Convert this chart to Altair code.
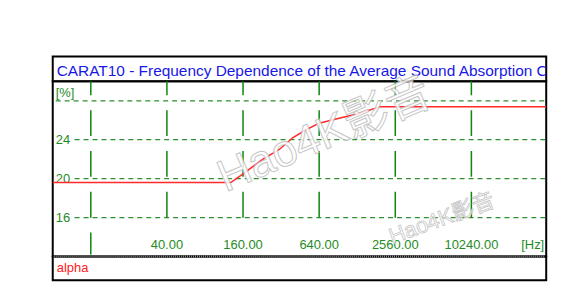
import altair as alt
import pandas as pd

# ---- data ----
title_text = "CARAT10 - Frequency Dependence of the Average Sound Absorption Coefficient"
freq_hz = [5, 128, 160, 230, 310, 395, 500, 640, 920, 1320, 1950, 40000]
alpha_pct = [19.6, 19.6, 20.5, 22.0, 23.0, 24.2, 25.0, 25.7, 26.2, 26.7, 27.4, 27.4]
grid_freqs = [10, 40, 160, 640, 2560, 10240]
grid_labels = ["", "40.00", "160.00", "640.00", "2560.00", "10240.00"]
y_ticks = [16, 20, 24, 28]
y_labels = ["16", "20", "24", "[%]"]
legend_text = ["alpha"]
watermark = "Hao4K影音"

W = 496
FONT = "Liberation Sans"
GREEN_TXT = "#1f8c1f"
GREEN_V = "#0b870b"
GREEN_H = "#2f8f2f"

xs = alt.Scale(type="log", domain=[5, 40000])
ys = alt.Scale(domain=[12, 30])

curve = pd.DataFrame({"f": freq_hz, "a": alpha_pct})
vgrid = pd.DataFrame({"f": grid_freqs, "lab": grid_labels})
hgrid = pd.DataFrame({"v": y_ticks, "lab": y_labels})

# ---- title band ----
title_band = alt.Chart(pd.DataFrame({"t": [title_text]})).mark_text(
    align="left", baseline="alphabetic", font=FONT, fontSize=15.5,
    color="#1717e6", clip=True
).encode(text="t:N", x=alt.value(4), y=alt.value(19.5)).properties(width=W, height=25)

# ---- main plot ----
base_v = alt.Chart(vgrid)
vlines_lab = base_v.transform_filter("datum.lab != ''").mark_rule(
    color=GREEN_V, strokeWidth=1.5, strokeDash=[26, 15], strokeDashOffset=12
).encode(x=alt.X("f:Q", scale=xs, axis=None), y=alt.value(0), y2=alt.value(147))
vlines_unlab = base_v.transform_filter("datum.lab == ''").mark_rule(
    color=GREEN_V, strokeWidth=1.5, strokeDash=[26, 15], strokeDashOffset=12
).encode(x=alt.X("f:Q", scale=xs, axis=None), y=alt.value(0), y2=alt.value(174))
xlabels = base_v.mark_text(
    font=FONT, fontSize=13, color=GREEN_TXT, baseline="middle", align="center"
).encode(x=alt.X("f:Q", scale=xs, axis=None), y=alt.value(165), text="lab:N")
hz_label = alt.Chart(pd.DataFrame({"t": ["[Hz]"]})).mark_text(
    font=FONT, fontSize=13, color=GREEN_TXT, baseline="middle", align="right"
).encode(x=alt.value(494), y=alt.value(165), text="t:N")

base_h = alt.Chart(hgrid)
hlines = base_h.transform_filter("datum.v < 28").mark_rule(
    color=GREEN_H, strokeWidth=1.2, strokeDash=[5, 4]
).encode(y=alt.Y("v:Q", scale=ys, axis=None), x=alt.value(22), x2=alt.value(W))
hline_top = base_h.transform_filter("datum.v == 28").mark_rule(
    color=GREEN_H, strokeWidth=1.2, strokeDash=[5, 4]
).encode(y=alt.Y("v:Q", scale=ys, axis=None), x=alt.value(3), x2=alt.value(W))
ylabels = base_h.transform_filter("datum.v < 28").mark_text(
    font=FONT, fontSize=13, color=GREEN_TXT, baseline="middle", align="left"
).encode(y=alt.Y("v:Q", scale=ys, axis=None), x=alt.value(3), text="lab:N")
ylabel_top = base_h.transform_filter("datum.v == 28").mark_text(
    font=FONT, fontSize=13, color=GREEN_TXT, baseline="bottom", align="left", dy=-1
).encode(y=alt.Y("v:Q", scale=ys, axis=None), x=alt.value(3), text="lab:N")

line = alt.Chart(curve).mark_line(color="#ff2a2a", strokeWidth=1.5, clip=True).encode(
    x=alt.X("f:Q", scale=xs, axis=None), y=alt.Y("a:Q", scale=ys, axis=None)
)

wm_df = pd.DataFrame({"t": [watermark]})
wm_big = alt.Chart(wm_df).mark_text(
    font=f"{FONT}, Noto Sans CJK SC", fontSize=45, angle=337, align="center",
    baseline="middle", fill="#ffffff", stroke="#bdbdbd", strokeWidth=1, opacity=0.85
).encode(x=alt.value(273), y=alt.value(54), text="t:N")
wm_small = alt.Chart(wm_df).mark_text(
    font=f"{FONT}, Noto Sans CJK SC", fontSize=22, angle=340, align="center",
    baseline="middle", fill="#ffffff", stroke="#bdbdbd", strokeWidth=0.8, opacity=0.85
).encode(x=alt.value(391), y=alt.value(138), text="t:N")

main = alt.layer(
    hlines, hline_top, vlines_lab, vlines_unlab, xlabels, hz_label, ylabels, ylabel_top,
    line, wm_big, wm_small
).properties(width=W, height=176)

# ---- legend band ----
legend_band = alt.Chart(pd.DataFrame({"t": legend_text})).mark_text(
    font=FONT, fontSize=13, color="#ff2020", align="left", baseline="middle"
).encode(text="t:N", x=alt.value(4), y=alt.value(12)).properties(width=W, height=24)

# separators (gray) drawn over the black view borders
sep_df = pd.DataFrame({"k": [0]})
sep_title = alt.Chart(sep_df).mark_rule(color="#8a8a8a", strokeWidth=2).encode(
    x=alt.value(1), x2=alt.value(W - 1), y=alt.value(25))
sep_legend = alt.Chart(sep_df).mark_rule(color="#8a8a8a", strokeWidth=2, strokeDash=[1, 1]).encode(
    x=alt.value(1), x2=alt.value(W - 1), y=alt.value(0))

chart = alt.vconcat(
    alt.layer(title_band, sep_title).properties(width=W, height=25),
    main,
    alt.layer(legend_band, sep_legend).properties(width=W, height=24),
    spacing=0,
    bounds="flush",
).properties(
    padding={"left": 52, "top": 55, "right": 40, "bottom": 19},
    background="white",
).configure_view(stroke="black", strokeWidth=2)

chart.save("out.html", embed_options={"renderer": "svg", "actions": False})
